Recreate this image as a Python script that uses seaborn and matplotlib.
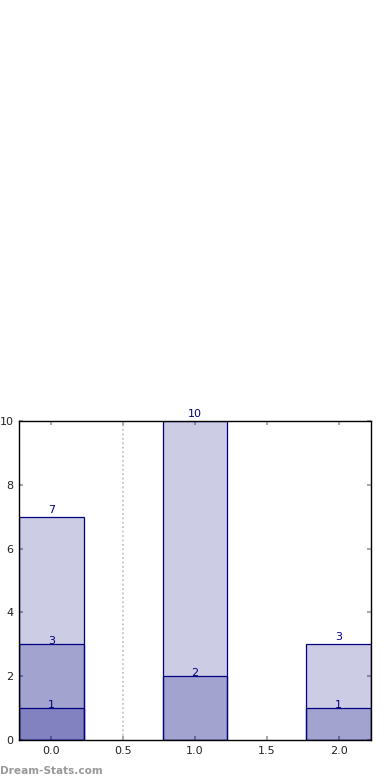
import matplotlib
matplotlib.use("Agg")
import matplotlib.pyplot as plt
import numpy as np
import pandas as pd
import seaborn as sns

# three overlapping series, drawn on top of each other (not stacked)
positions = [0.0, 1.0, 2.0]
series_a = [7, 10, 3]
series_b = [3, 2, 1]
series_c_pos = [0.0]
series_c = [1]

navy = "#000080"

sns.set_style("white")
plt.rcParams["font.family"] = ["DejaVu Sans"]

fig = plt.figure(figsize=(3.9, 7.8), dpi=100)
ax = fig.add_axes([0.0487, 0.0513, 0.9026, 0.409])

layers = [(positions, series_a, 1.5), (positions, series_b, -1.5),
          (series_c_pos, series_c, -1.5)]
for xs, ys, pad in layers:
    sns.barplot(x=xs, y=ys, native_scale=True, width=0.45, color=navy,
                alpha=0.2, edgecolor=navy, linewidth=0.9, ax=ax)
    # seaborn sets alpha on the whole patch: restore a solid edge
    cont = ax.containers[-1]
    for p in cont:
        p.set_facecolor((0, 0, 0.5, 0.2))
        p.set_edgecolor(navy)
        p.set_alpha(None)
    ax.bar_label(cont, labels=[str(v) for v in ys], padding=pad,
                 color=navy, fontsize=8)

ax.axvline(0.5, color="#bbbbbb", linestyle=":", linewidth=1.2, zorder=0)

ax.set_xlim(-0.225, 2.225)
ax.set_ylim(0, 10)
ax.set_xticks([0.0, 0.5, 1.0, 1.5, 2.0])
ax.set_yticks([0, 2, 4, 6, 8, 10])
ax.xaxis.set_major_formatter(matplotlib.ticker.FormatStrFormatter("%.1f"))
ax.tick_params(direction="in", length=3, width=1.5, color="#aaaaaa",
               labelsize=8, labelcolor="#222222", top=True, right=True,
               bottom=True, left=True, pad=4)
for s in ax.spines.values():
    s.set_visible(True)
    s.set_color("black")
    s.set_linewidth(1)

fig.text(0.0, 0.005, "Dream-Stats.com", color="#999999", fontsize=7.6,
         fontweight="bold", ha="left", va="bottom")

fig.savefig("out.png", dpi=100)
